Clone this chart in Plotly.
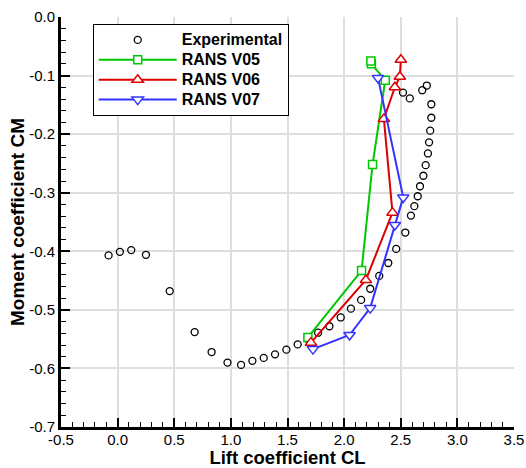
import plotly.graph_objects as go

# Experimental data
cl_exp = [-0.08, 0.02, 0.12, 0.25, 0.46, 0.68, 0.83, 0.97, 1.09, 1.19, 1.29, 1.39, 1.49, 1.59,
          1.68, 1.77, 1.87, 1.97, 2.06, 2.15, 2.23, 2.31, 2.39, 2.46, 2.54, 2.59, 2.62, 2.65,
          2.67, 2.70, 2.72, 2.74, 2.75, 2.76, 2.77, 2.77, 2.73, 2.69, 2.58, 2.52]
cm_exp = [-0.407, -0.401, -0.398, -0.406, -0.468, -0.538, -0.572, -0.590, -0.594, -0.587,
          -0.582, -0.576, -0.568, -0.559, -0.550, -0.539, -0.528, -0.513, -0.498, -0.483,
          -0.464, -0.442, -0.420, -0.396, -0.368, -0.339, -0.323, -0.306, -0.289, -0.271,
          -0.253, -0.233, -0.214, -0.194, -0.172, -0.149, -0.117, -0.125, -0.139, -0.129]

# RANS series
cl_v05 = [1.68, 2.154, 2.251, 2.363, 2.241, 2.236]
cm_v05 = [-0.547, -0.433, -0.252, -0.108, -0.080, -0.075]

cl_v06 = [1.707, 2.192, 2.427, 2.351, 2.448, 2.492, 2.501]
cm_v06 = [-0.556, -0.449, -0.334, -0.174, -0.120, -0.102, -0.073]

cl_v07 = [1.725, 2.048, 2.23, 2.448, 2.522, 2.299]
cm_v07 = [-0.567, -0.543, -0.497, -0.355, -0.308, -0.104]

# Tick values / labels
x_tickvals = [-0.5, 0.0, 0.5, 1.0, 1.5, 2.0, 2.5, 3.0, 3.5]
x_ticktext = ["-0.5", "0.0", "0.5", "1.0", "1.5", "2.0", "2.5", "3.0", "3.5"]
y_tickvals = [0.0, -0.1, -0.2, -0.3, -0.4, -0.5, -0.6, -0.7]
y_ticktext = ["0.0", "-0.1", "-0.2", "-0.3", "-0.4", "-0.5", "-0.6", "-0.7"]

FONT = "Liberation Sans, Arial, sans-serif"
GREEN = "rgb(0,200,0)"
RED = "rgb(220,0,0)"
BLUE = "rgb(50,50,255)"


def lname(s):
    return "<span style='font-size:16px'>" + s + "</span>"


fig = go.Figure()
fig.add_trace(go.Scatter(
    x=cl_exp, y=cm_exp, mode="markers", name=lname("Experimental"),
    marker=dict(symbol="circle-open", size=7, color="black", line=dict(width=1.3, color="black")),
))
fig.add_trace(go.Scatter(
    x=cl_v05, y=cm_v05, mode="lines+markers", name=lname("RANS V05"),
    line=dict(color=GREEN, width=2),
    marker=dict(symbol="square", size=8, color="white", line=dict(width=1.5, color=GREEN)),
))
fig.add_trace(go.Scatter(
    x=cl_v06, y=cm_v06, mode="lines+markers", name=lname("RANS V06"),
    line=dict(color=RED, width=2),
    marker=dict(symbol="triangle-up", size=10, color="white", line=dict(width=1.5, color=RED)),
))
fig.add_trace(go.Scatter(
    x=cl_v07, y=cm_v07, mode="lines+markers", name=lname("RANS V07"),
    line=dict(color=BLUE, width=2),
    marker=dict(symbol="triangle-down", size=10, color="white", line=dict(width=1.5, color=BLUE)),
))

axis_common = dict(
    showgrid=True, gridcolor="#dedede", gridwidth=1.5,
    showline=True, linecolor="black", linewidth=3,
    ticks="inside", ticklen=9, tickwidth=2, tickcolor="black",
    zeroline=False, tickmode="array", automargin=False,
    tickfont=dict(family=FONT, size=15, color="black"),
)

fig.update_layout(
    width=526, height=468,
    margin=dict(l=61, r=12, t=17, b=41),
    paper_bgcolor="white", plot_bgcolor="white",
    font=dict(family=FONT, color="black"),
    showlegend=True,
    legend=dict(
        x=0.07, y=0.983, xanchor="left", yanchor="top",
        bgcolor="white", bordercolor="black", borderwidth=1,
        font=dict(family=FONT, size=13, color="black", weight="bold"),
        tracegroupgap=0, itemwidth=78,
    ),
    xaxis=dict(
        range=[-0.5, 3.5], tickvals=x_tickvals, ticktext=x_ticktext,
        ticklabelstandoff=-3,
        title=dict(text="Lift coefficient CL", font=dict(family=FONT, size=18.5, weight="bold"), standoff=6),
        minor=dict(tickmode="linear", tick0=0, dtick=0.1, ticks="inside", ticklen=5, tickwidth=1,
                   tickcolor="black", showgrid=False),
        **axis_common,
    ),
    yaxis=dict(
        range=[-0.7, 0.0], tickvals=y_tickvals, ticktext=y_ticktext,
        title=dict(text="Moment coefficient CM", font=dict(family=FONT, size=19, weight="bold"), standoff=0),
        minor=dict(tickmode="linear", tick0=0, dtick=0.02, ticks="inside", ticklen=5, tickwidth=1,
                   tickcolor="black", showgrid=False),
        **axis_common,
    ),
)

fig.write_html("out.html")
